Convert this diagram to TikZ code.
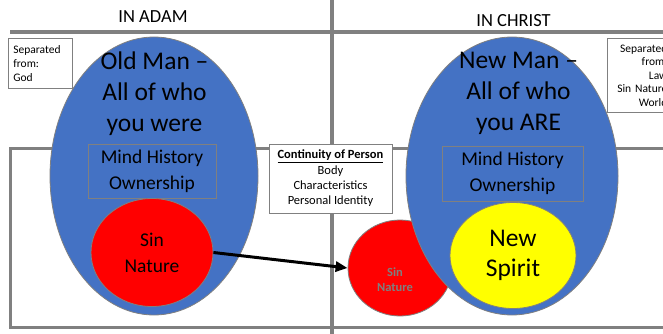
\documentclass[tikz,border=0pt]{standalone}
\usepackage{fontspec}
\setmainfont{Carlito}
\usetikzlibrary{arrows.meta,shapes.geometric}
\definecolor{gline}{HTML}{808080}
\definecolor{mblue}{HTML}{4472C4}
\definecolor{sinred}{HTML}{FF0000}
\definecolor{spirit}{HTML}{FFFF00}
\definecolor{greytext}{HTML}{7F7F7F}
\tikzset{
  gridline/.style={gline, line width=4pt},
  gridthin/.style={gline, line width=3pt},
  manshape/.style={ellipse, fill=mblue, draw=gline, line width=0.8pt, inner sep=0pt},
  innershape/.style={ellipse, draw=gline, line width=0.8pt, inner sep=0pt, align=center},
  mindbox/.style={draw=gline, line width=0.7pt, align=center, inner sep=0pt,
    font=\fontsize{19.5}{26}\selectfont},
  notebox/.style={draw=gline, line width=0.8pt, fill=white, inner ysep=0pt},
  bigtext/.style={align=center, inner sep=0pt, font=\fontsize{25.5}{31}\selectfont},
  heading/.style={inner sep=0pt, font=\fontsize{18.5}{22}\selectfont},
}
\begin{document}
\begin{tikzpicture}[x=1pt,y=-1pt]
\useasboundingbox (0,0) rectangle (663,334);
\fill[white] (0,0) rectangle (663,334);
% frame lines
\draw[gridline] (10,32) -- (675,32);
\draw[gridthin] (675,148) -- (10,148) -- (10,327.5) -- (675,327.5);
\draw[gridline] (332,-5) -- (332,340);
% headings
\node[heading] (adam) at (153,17) {IN ADAM};
\node[heading] (christ) at (513.5,21) {IN CHRIST};
% left side
\node[manshape, minimum width=208pt, minimum height=278pt] (oldman) at (154,176) {};
\node[bigtext] (oldtext) at (154.5,94) {Old Man –\\All of who\\you were};
\node[mindbox, minimum width=128pt, minimum height=54pt] (mindL) at (152,171) {Mind History\\Ownership};
\node[innershape, fill=sinred, minimum width=122pt, minimum height=108pt,
  font=\fontsize{19.5}{26}\selectfont] (sinL) at (152,252.5) {Sin\\Nature};
% right side
\node[innershape, fill=sinred, minimum width=104pt, minimum height=96pt] (sinR) at (400,268) {};
\node[align=center, inner sep=0pt, text=greytext,
  font=\bfseries\fontsize{12.5}{15}\selectfont] (sinRtext) at (395,279.5) {Sin\\Nature};
\node[manshape, minimum width=212pt, minimum height=278pt] (newman) at (512,176) {};
\node[bigtext] (newtext) at (518.5,93.5) {New Man –\\All of who\\you ARE};
\node[mindbox, minimum width=141pt, minimum height=55pt] (mindR) at (512.5,173.5) {Mind History\\Ownership};
\node[innershape, fill=spirit, minimum width=126pt, minimum height=106pt,
  font=\fontsize{25.5}{30}\selectfont] (spiritN) at (513,255.5) {New\\Spirit};
% arrow
\draw[line width=3pt, -{Triangle[length=12pt,width=10pt]}] (sinL.east) -- (sinR.west);
% note boxes
\node[notebox, anchor=north west, text width=54pt, inner xsep=5pt, minimum height=50pt,
  align=left, font=\fontsize{11.5}{14}\selectfont] (sepL) at (8,38) {Separated\\from:\\God};
\node[notebox, anchor=north west, text width=56pt, inner xsep=4pt, minimum height=74pt,
  align=right, font=\fontsize{11.5}{13.5}\selectfont] (sepR) at (607,38) {Separated\\from:\\Law\\Sin Nature\\World};
\node[notebox, align=center, minimum width=123pt, minimum height=69pt,
  font=\fontsize{12.5}{15.3}\selectfont] (cont) at (330.5,178.5)
  {\textbf{\underline{Continuity of Person}}\\Body\\Characteristics\\Personal Identity};
\end{tikzpicture}
\end{document}
